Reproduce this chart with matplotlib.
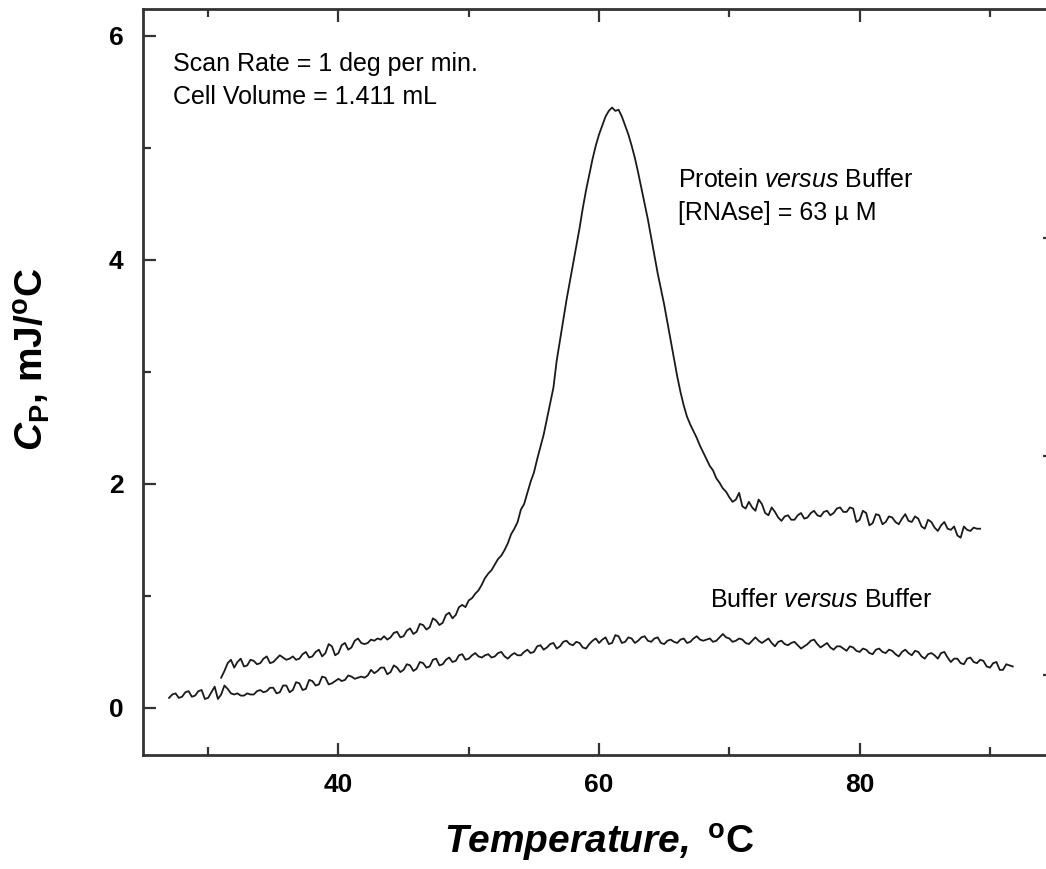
import numpy as np
import matplotlib.pyplot as plt
from matplotlib.ticker import MultipleLocator

plt.rcParams['font.family'] = ['Liberation Sans', 'DejaVu Sans']
plt.rcParams['mathtext.fontset'] = 'custom'
plt.rcParams['mathtext.rm'] = 'Liberation Sans'
plt.rcParams['mathtext.it'] = 'Liberation Sans:italic'
plt.rcParams['mathtext.bf'] = 'Liberation Sans:bold'
plt.rcParams['mathtext.bfit'] = 'Liberation Sans:italic:bold'

# DSC scans, one value every 0.25 deg
step = 0.25
protein_t0 = 31.0
protein_cp = [
    0.27, 0.33, 0.40, 0.43, 0.36, 0.41, 0.44, 0.37, 0.38, 0.43, 0.42, 0.39,
    0.40, 0.44, 0.46, 0.40, 0.41, 0.44, 0.47, 0.45, 0.43, 0.44, 0.46, 0.43,
    0.44, 0.48, 0.50, 0.45, 0.46, 0.50, 0.52, 0.46, 0.49, 0.57, 0.55, 0.47,
    0.49, 0.56, 0.58, 0.52, 0.54, 0.60, 0.62, 0.58, 0.57, 0.58, 0.61, 0.60,
    0.62, 0.61, 0.64, 0.61, 0.63, 0.67, 0.68, 0.63, 0.64, 0.69, 0.71, 0.66,
    0.68, 0.75, 0.74, 0.70, 0.72, 0.80, 0.78, 0.74, 0.76, 0.83, 0.85, 0.80,
    0.83, 0.90, 0.92, 0.90, 0.96, 0.98, 1.02, 1.05, 1.10, 1.16, 1.20, 1.23,
    1.28, 1.33, 1.36, 1.41, 1.47, 1.55, 1.60, 1.66, 1.77, 1.82, 1.92, 2.02,
    2.10, 2.22, 2.33, 2.44, 2.58, 2.72, 2.86, 3.10, 3.28, 3.46, 3.64, 3.80,
    3.96, 4.12, 4.28, 4.46, 4.62, 4.76, 4.90, 5.02, 5.12, 5.20, 5.28, 5.33,
    5.36, 5.33, 5.34, 5.28, 5.20, 5.12, 5.02, 4.91, 4.78, 4.64, 4.50, 4.36,
    4.20, 4.04, 3.88, 3.74, 3.60, 3.44, 3.28, 3.12, 2.96, 2.82, 2.70, 2.60,
    2.53, 2.47, 2.41, 2.34, 2.28, 2.22, 2.16, 2.12, 2.05, 2.01, 1.96, 1.93,
    1.88, 1.84, 1.86, 1.92, 1.80, 1.78, 1.84, 1.79, 1.76, 1.86, 1.82, 1.74,
    1.72, 1.79, 1.75, 1.70, 1.67, 1.71, 1.72, 1.68, 1.68, 1.72, 1.74, 1.69,
    1.70, 1.74, 1.76, 1.72, 1.71, 1.75, 1.76, 1.72, 1.74, 1.78, 1.79, 1.75,
    1.75, 1.79, 1.78, 1.66, 1.68, 1.76, 1.74, 1.63, 1.65, 1.73, 1.72, 1.64,
    1.66, 1.71, 1.70, 1.66, 1.64, 1.69, 1.73, 1.67, 1.66, 1.71, 1.69, 1.62,
    1.60, 1.68, 1.66, 1.61, 1.58, 1.63, 1.66, 1.60, 1.59, 1.62, 1.54, 1.52,
    1.62, 1.59, 1.58, 1.61, 1.60, 1.60]

buffer_t0 = 27.0
buffer_cp = [
    0.09, 0.12, 0.13, 0.09, 0.10, 0.14, 0.15, 0.10, 0.11, 0.15, 0.16, 0.08,
    0.09, 0.14, 0.19, 0.08, 0.12, 0.20, 0.17, 0.13, 0.12, 0.13, 0.11, 0.11,
    0.13, 0.12, 0.12, 0.15, 0.16, 0.14, 0.15, 0.18, 0.18, 0.13, 0.14, 0.20,
    0.20, 0.14, 0.16, 0.23, 0.22, 0.16, 0.17, 0.25, 0.24, 0.20, 0.21, 0.28,
    0.27, 0.21, 0.22, 0.24, 0.26, 0.24, 0.25, 0.29, 0.28, 0.26, 0.27, 0.28,
    0.27, 0.29, 0.34, 0.31, 0.33, 0.36, 0.36, 0.30, 0.32, 0.38, 0.36, 0.32,
    0.34, 0.39, 0.38, 0.33, 0.35, 0.41, 0.40, 0.36, 0.37, 0.43, 0.44, 0.38,
    0.39, 0.43, 0.45, 0.41, 0.42, 0.47, 0.48, 0.43, 0.44, 0.47, 0.49, 0.46,
    0.45, 0.47, 0.48, 0.45, 0.46, 0.49, 0.50, 0.46, 0.44, 0.47, 0.49, 0.47,
    0.47, 0.50, 0.52, 0.49, 0.50, 0.55, 0.56, 0.52, 0.54, 0.57, 0.58, 0.53,
    0.55, 0.59, 0.60, 0.57, 0.56, 0.59, 0.58, 0.54, 0.53, 0.57, 0.60, 0.62,
    0.58, 0.61, 0.63, 0.57, 0.58, 0.65, 0.64, 0.58, 0.59, 0.63, 0.62, 0.58,
    0.60, 0.63, 0.64, 0.60, 0.59, 0.62, 0.63, 0.58, 0.57, 0.60, 0.61, 0.59,
    0.58, 0.61, 0.62, 0.58, 0.59, 0.62, 0.64, 0.61, 0.60, 0.61, 0.62, 0.59,
    0.60, 0.63, 0.66, 0.63, 0.62, 0.59, 0.60, 0.62, 0.61, 0.58, 0.57, 0.60,
    0.63, 0.60, 0.58, 0.60, 0.62, 0.58, 0.55, 0.59, 0.60, 0.57, 0.56, 0.58,
    0.59, 0.56, 0.53, 0.55, 0.57, 0.60, 0.61, 0.57, 0.54, 0.56, 0.58, 0.54,
    0.52, 0.55, 0.55, 0.53, 0.51, 0.55, 0.54, 0.51, 0.50, 0.53, 0.52, 0.49,
    0.48, 0.52, 0.53, 0.50, 0.49, 0.52, 0.51, 0.48, 0.46, 0.50, 0.52, 0.49,
    0.47, 0.51, 0.50, 0.46, 0.44, 0.48, 0.49, 0.47, 0.44, 0.49, 0.50, 0.45,
    0.41, 0.44, 0.44, 0.40, 0.39, 0.44, 0.45, 0.41, 0.40, 0.43, 0.42, 0.37,
    0.36, 0.40, 0.41, 0.34, 0.34, 0.39, 0.38, 0.37]

protein_t = protein_t0 + step * np.arange(len(protein_cp))
buffer_t = buffer_t0 + step * np.arange(len(buffer_cp))

fig = plt.figure(figsize=(10.46, 8.69), dpi=100)
# right spine sits just outside the picture, as in the original
ax = fig.add_axes([0.1367, 0.1312, 0.872, 0.8585])

ax.plot(protein_t, protein_cp, color='#1a1a1a', lw=1.3)
ax.plot(buffer_t, buffer_cp, color='#1a1a1a', lw=1.3)

ax.set_xlim(25, 95)
ax.set_ylim(-0.42, 6.24)
ax.xaxis.set_major_locator(MultipleLocator(20))
ax.xaxis.set_minor_locator(MultipleLocator(10))
ax.yaxis.set_major_locator(MultipleLocator(2))
ax.yaxis.set_minor_locator(MultipleLocator(1))
ax.tick_params(which='both', direction='in', top=True, right=False,
               width=1.6, color='#333333')
ax.tick_params(which='major', length=9)
ax.tick_params(which='minor', length=6)
ax.tick_params(axis='y', labelsize=19, pad=14)
ax.tick_params(axis='x', labelsize=19, pad=13)
for lab in ax.get_xticklabels() + ax.get_yticklabels():
    lab.set_fontweight('bold')
for s in ax.spines.values():
    s.set_linewidth(2.0)
    s.set_color('#333333')

# right-hand axis ticks (other scale, labels cut off)
ax2 = ax.twinx()
ax2.set_ylim(-0.366, 3.048)
ax2.set_yticks([0, 1, 2])
ax2.tick_params(direction='in', length=9, width=1.6, color='#333333',
                labelright=False)
for s in ax2.spines.values():
    s.set_visible(False)

ax.set_xlabel(r'$\mathbfit{Temperature,}$ $^{\mathbf{o}}$C',
              fontsize=28, fontweight='bold', labelpad=18)
ax.set_ylabel(r'$\mathbfit{C}_{\mathbf{P}}$, mJ/$^{\mathbf{o}}$C',
              fontsize=28, fontweight='bold')
ax.yaxis.set_label_coords(-0.10, 0.53)

ax.text(27.3, 5.75, 'Scan Rate = 1 deg per min.', fontsize=18, va='center')
ax.text(27.3, 5.45, 'Cell Volume = 1.411 mL', fontsize=18, va='center')
ax.text(66.05, 4.71, r'Protein $\mathit{versus}$ Buffer', fontsize=18, va='center')
ax.text(66.05, 4.42, '[RNAse] = 63 \u00b5 M', fontsize=18, va='center')
ax.text(68.5, 0.96, r'Buffer $\mathit{versus}$ Buffer', fontsize=18, va='center')

fig.savefig('out.png', dpi=100)
